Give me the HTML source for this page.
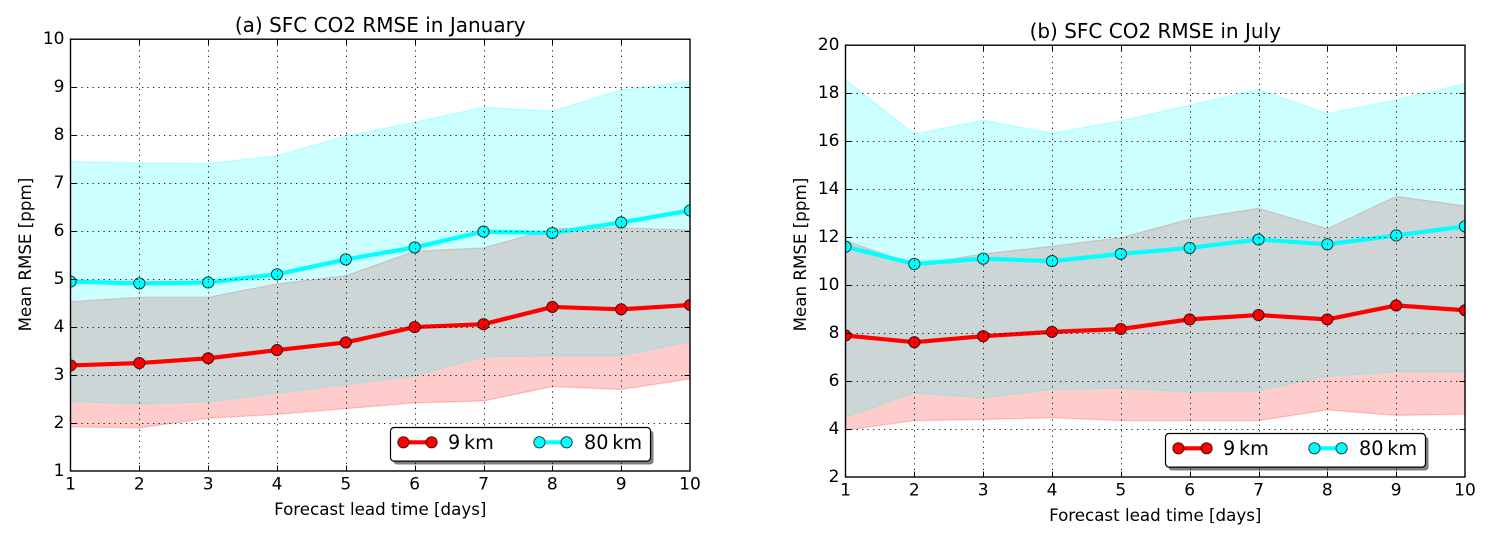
<!DOCTYPE html>
<html lang="en">
<head>
<meta charset="utf-8">
<title>SFC CO2 RMSE</title>
<style>
html,body{margin:0;padding:0;background:#fff;}
#chart{display:block;position:absolute;left:0;top:0;}
text{font-family:"DejaVu Sans","Liberation Sans",sans-serif;fill:#000;}
</style>
</head>
<body>
<svg id="chart" xmlns="http://www.w3.org/2000/svg" width="1493" height="543" viewBox="0 0 1493 543"></svg>
<script>
const days = [1,2,3,4,5,6,7,8,9,10];
const seriesNames = ['9 km','80 km'];

const janTitle = '(a) SFC CO2 RMSE in January';
const janYTicks = [1,2,3,4,5,6,7,8,9,10];
const janRedMean = [3.2,3.25,3.35,3.52,3.68,4.0,4.06,4.42,4.37,4.46];
const janRedUpper = [4.53,4.62,4.62,4.9,5.07,5.58,5.65,6.05,6.07,6.02];
const janRedLower = [1.92,1.9,2.1,2.18,2.3,2.42,2.46,2.76,2.7,2.92];
const janCyanMean = [4.95,4.91,4.93,5.1,5.41,5.66,5.99,5.96,6.18,6.43];
const janCyanUpper = [7.45,7.42,7.41,7.57,7.98,8.27,8.58,8.5,8.94,9.12];
const janCyanLower = [2.45,2.4,2.44,2.62,2.8,2.98,3.38,3.4,3.4,3.7];

const julTitle = '(b) SFC CO2 RMSE in July';
const julYTicks = [2,4,6,8,10,12,14,16,18,20];
const julRedMean = [7.9,7.62,7.87,8.05,8.17,8.57,8.75,8.57,9.15,8.95];
const julRedUpper = [11.85,10.85,11.3,11.62,11.98,12.75,13.2,12.35,13.7,13.3];
const julRedLower = [3.95,4.35,4.4,4.47,4.35,4.35,4.35,4.8,4.57,4.62];
const julCyanMean = [11.6,10.88,11.1,11,11.3,11.55,11.9,11.7,12.07,12.45];
const julCyanUpper = [18.55,16.3,16.87,16.33,16.85,17.5,18.15,17.15,17.72,18.4];
const julCyanLower = [4.5,5.5,5.3,5.65,5.7,5.55,5.6,6.2,6.38,6.38];

const NS = 'http://www.w3.org/2000/svg';
const svg = document.getElementById('chart');

function make(parent, tag, props, content) {
  const el = document.createElementNS(NS, tag);
  for (const k in props) el.setAttribute(k, props[k]);
  if (content !== undefined) el.textContent = content;
  parent.appendChild(el);
  return el;
}

function drawPanel(id, ox, oy, title, yTicks, redMean, redUpper, redLower, cyanMean, cyanUpper, cyanLower) {
  const L = ox + 70.5, R = ox + 690, T = oy + 39.2, B = oy + 471;
  const xMin = days[0], xMax = days[days.length - 1];
  const yMin = yTicks[0], yMax = yTicks[yTicks.length - 1];
  const sx = v => L + (v - xMin) / (xMax - xMin) * (R - L);
  const sy = v => B - (v - yMin) / (yMax - yMin) * (B - T);

  const g = make(svg, 'g', {});
  
  

  const clip = make(g, 'clipPath', {id: id + '-clip'});
  make(clip, 'rect', {x: L, y: T, width: R - L, height: B - T});

  const plot = make(g, 'g', {'clip-path': 'url(#' + id + '-clip)'});

  function band(name, upper, lower, color) {
    const top = days.map((d, i) => sx(d).toFixed(2) + ',' + sy(upper[i]).toFixed(2));
    const bot = days.map((d, i) => sx(d).toFixed(2) + ',' + sy(lower[i]).toFixed(2)).reverse();
    const p = make(plot, 'polygon', {points: top.concat(bot).join(' '), fill: color, 'fill-opacity': 0.2, stroke: color, 'stroke-opacity': 0.2, 'stroke-width': 1.3});
    
    
  }
  band(id + '-9km-band', redUpper, redLower, '#ff0000');
  band(id + '-80km-band', cyanUpper, cyanLower, '#00ffff');

  function line(name, values, color) {
    const pts = days.map((d, i) => sx(d).toFixed(2) + ',' + sy(values[i]).toFixed(2)).join(' ');
    const s = make(plot, 'g', {});
    
    
    make(s, 'polyline', {points: pts, fill: 'none', stroke: color, 'stroke-width': 4.2, 'stroke-linejoin': 'round'});
    days.forEach((d, i) => {
      const c = make(s, 'circle', {cx: sx(d).toFixed(2), cy: sy(values[i]).toFixed(2), r: 5.6, fill: color, stroke: '#000', 'stroke-opacity': 0.8, 'stroke-width': 0.9});
      
      
    });
  }
  line(id + '-9km-line', redMean, '#ff0000');
  line(id + '-80km-line', cyanMean, '#00ffff');

  const grid = make(g, 'g', {stroke: '#000', 'stroke-width': 1, 'stroke-dasharray': '1.3,4.2', 'stroke-opacity': 0.85});
  
  
  const ticks = make(g, 'g', {stroke: '#000', 'stroke-width': 1});
  
  

  days.forEach(d => {
    const x = Math.round(sx(d)) + 0.5;
    if (d !== xMin && d !== xMax) {
      make(grid, 'line', {x1: x, x2: x, y1: T, y2: B});
      make(ticks, 'line', {x1: x, x2: x, y1: B, y2: B - 5.5});
      make(ticks, 'line', {x1: x, x2: x, y1: T, y2: T + 5.5});
    }
    const t = make(g, 'text', {x: sx(d), y: oy + 489.5, 'text-anchor': 'middle', 'font-size': 17}, String(d));
    
    
  });
  yTicks.forEach(v => {
    const y = Math.round(sy(v)) + 0.5;
    if (v !== yMin && v !== yMax) {
      make(grid, 'line', {x1: L, x2: R, y1: y, y2: y});
      make(ticks, 'line', {x1: L, x2: L + 5.5, y1: y, y2: y});
      make(ticks, 'line', {x1: R, x2: R - 5.5, y1: y, y2: y});
    }
    const t = make(g, 'text', {x: L - 6, y: sy(v) + 5, 'text-anchor': 'end', 'font-size': 17}, String(v));
    
    
  });

  const frame = make(g, 'rect', {x: L, y: T, width: R - L, height: B - T, fill: 'none', stroke: '#000', 'stroke-width': 1.4});
  
  

  const ttl = make(g, 'text', {x: (L + R) / 2, y: oy + 32, 'text-anchor': 'middle', 'font-size': 20}, title);
  
  

  const xl = make(g, 'text', {x: (L + R) / 2, y: oy + 515, 'text-anchor': 'middle', 'font-size': 16.7}, 'Forecast lead time [days]');
  
  

  const yl = make(g, 'text', {x: 0, y: 0, transform: 'translate(' + (ox + 31) + ' 254.6) rotate(-90)', 'text-anchor': 'middle', 'font-size': 16.7}, 'Mean RMSE [ppm]');
  
  

  const lg = make(g, 'g', {});
  
  
  make(lg, 'rect', {x: ox + 393.5, y: oy + 430.5, width: 260, height: 34, rx: 3.5, fill: '#000', 'fill-opacity': 0.5});
  make(lg, 'rect', {x: ox + 390.5, y: oy + 427.5, width: 260, height: 33.6, rx: 3.5, fill: '#fff', stroke: '#000', 'stroke-width': 1.2});

  function entry(name, x1, x2, color, textX, label) {
    const e = make(lg, 'g', {});
    
    
    const y = oy + 442.3;
    make(e, 'line', {x1: ox + x1, x2: ox + x2, y1: y, y2: y, stroke: color, 'stroke-width': 4.2});
    make(e, 'circle', {cx: ox + x1, cy: y, r: 5.6, fill: color, stroke: '#000', 'stroke-opacity': 0.8, 'stroke-width': 0.9});
    make(e, 'circle', {cx: ox + x2, cy: y, r: 5.6, fill: color, stroke: '#000', 'stroke-opacity': 0.8, 'stroke-width': 0.9});
    make(e, 'text', {x: ox + textX, y: oy + 449, 'font-size': 19.2}, label);
  }
  entry(id + '-legend-9km', 403.4, 431.6, '#ff0000', 448, seriesNames[0].replace(' ', '\u2009'));
  entry(id + '-legend-80km', 539.4, 566.6, '#00ffff', 584, seriesNames[1].replace(' ', '\u2009'));
}

drawPanel('january', 0, 0, janTitle, janYTicks, janRedMean, janRedUpper, janRedLower, janCyanMean, janCyanUpper, janCyanLower);
drawPanel('july', 775, 6, julTitle, julYTicks, julRedMean, julRedUpper, julRedLower, julCyanMean, julCyanUpper, julCyanLower);
</script>
</body>
</html>
